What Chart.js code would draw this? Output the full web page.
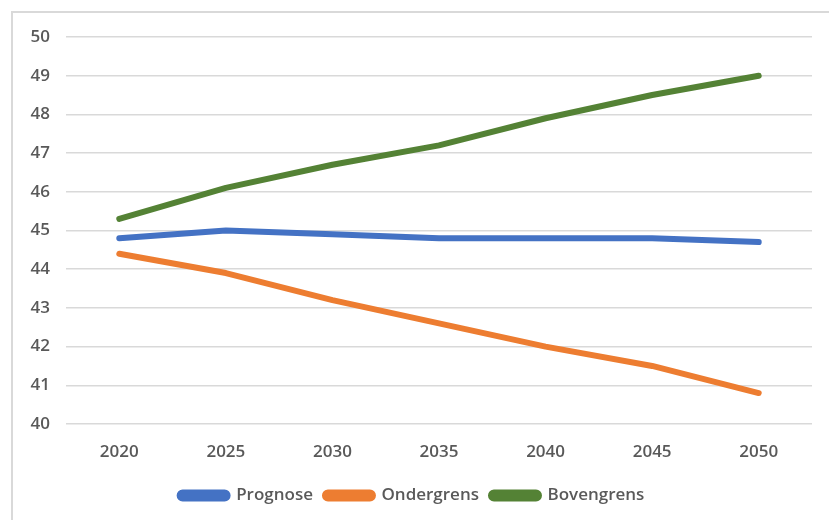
<!DOCTYPE html>
<html>
<head>
<meta charset="utf-8">
<script src="https://cdn.jsdelivr.net/npm/chart.js@4/dist/chart.umd.min.js"></script>
<style>
  html, body { margin: 0; padding: 0; background: #fff; }
  #wrap { width: 829px; height: 520px; }
</style>
</head>
<body>
<div id="wrap"><canvas id="myChart" width="829" height="520"></canvas></div>
<script>
// data
const jaren = ['2020', '2025', '2030', '2035', '2040', '2045', '2050'];
const prognose = [44.8, 45.0, 44.9, 44.8, 44.8, 44.8, 44.7];
const ondergrens = [44.4, 43.9, 43.2, 42.6, 42.0, 41.5, 40.8];
const bovengrens = [45.3, 46.1, 46.7, 47.2, 47.9, 48.5, 49.0];

const tekstKleur = '#595959';
const rasterKleur = '#d9d9d9';

// grijze rand om de grafiek
const framePlugin = {
  id: 'frame',
  beforeDraw: function (chart) {
    const ctx = chart.ctx;
    ctx.save();
    ctx.fillStyle = 'white';
    ctx.fillRect(0, 0, chart.width, chart.height);
    ctx.strokeStyle = rasterKleur;
    ctx.lineWidth = 2;
    ctx.strokeRect(12, 12, chart.width + 10, chart.height + 10);
    ctx.restore();
  }
};

function lijn(label, data, kleur) {
  return {
    label: label,
    data: data,
    borderColor: kleur,
    backgroundColor: kleur,
    borderWidth: 6,
    borderCapStyle: 'round',
    borderJoinStyle: 'round',
    pointRadius: 0,
    tension: 0,
    fill: false
  };
}

Chart.defaults.font.family = '"Open Sans", sans-serif';
Chart.defaults.font.weight = '600';
Chart.defaults.color = tekstKleur;

new Chart(document.getElementById('myChart'), {
  type: 'line',
  data: {
    labels: jaren,
    datasets: [
      lijn('Prognose', prognose, '#4472C4'),
      lijn('Ondergrens', ondergrens, '#ED7D31'),
      lijn('Bovengrens', bovengrens, '#548235')
    ]
  },
  options: {
    responsive: false,
    animation: false,
    layout: { padding: { left: 12, top: 37, right: 17, bottom: 6 } },
    plugins: {
      tooltip: { enabled: false },
      legend: {
        position: 'bottom',
        labels: {
          boxWidth: 48,
          boxHeight: 6,
          useBorderRadius: true,
          borderRadius: 3,
          padding: 12,
          font: { size: 17, weight: '600' },
          color: tekstKleur
        }
      }
    },
    scales: {
      x: {
        offset: true,
        grid: { display: false },
        border: { display: false },
        ticks: { font: { size: 17, weight: '600' }, color: tekstKleur, padding: 10 },
        afterFit: function (scale) { scale.height = 51; }
      },
      y: {
        min: 40,
        max: 50,
        ticks: { stepSize: 1, font: { size: 17, weight: '600' }, color: tekstKleur, padding: 16 },
        grid: { color: rasterKleur, lineWidth: 1.5, drawTicks: false },
        border: { display: false },
        afterFit: function (scale) { scale.width = 54; }
      }
    }
  },
  plugins: [framePlugin]
});
</script>
</body>
</html>
